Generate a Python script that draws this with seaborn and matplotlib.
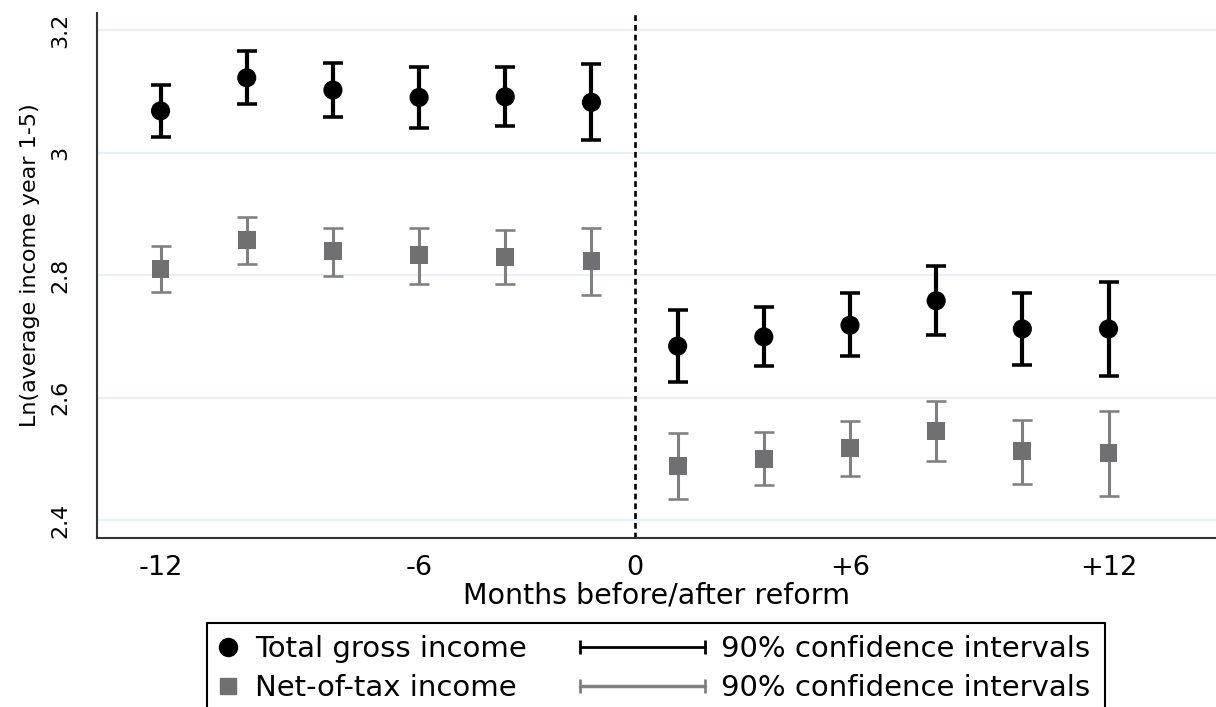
import numpy as np
import pandas as pd
import matplotlib
matplotlib.use("Agg")
import matplotlib.pyplot as plt
import seaborn as sns
from matplotlib.lines import Line2D
from matplotlib.patches import Rectangle
from matplotlib.legend_handler import HandlerLine2D

# event-time slots: 6 bins before, 6 bins after the reform
slots = [1, 2, 3, 4, 5, 6, 7, 8, 9, 10, 11, 12]
tick_pos = [1, 4, 6.5, 9, 12]
tick_labels = ["-12", "-6", "0", "+6", "+12"]

gross = [3.068, 3.122, 3.102, 3.090, 3.091, 3.082,
         2.684, 2.699, 2.718, 2.758, 2.712, 2.712]
gross_lo = [3.026, 3.080, 3.058, 3.040, 3.043, 3.020,
            2.625, 2.651, 2.668, 2.702, 2.653, 2.635]
gross_hi = [3.110, 3.165, 3.146, 3.140, 3.140, 3.145,
            2.743, 2.748, 2.770, 2.815, 2.771, 2.789]

net = [2.810, 2.857, 2.839, 2.833, 2.829, 2.823,
       2.488, 2.500, 2.517, 2.545, 2.513, 2.510]
net_lo = [2.772, 2.818, 2.799, 2.786, 2.786, 2.768,
          2.435, 2.457, 2.472, 2.496, 2.459, 2.440]
net_hi = [2.848, 2.895, 2.877, 2.877, 2.873, 2.877,
          2.542, 2.544, 2.562, 2.594, 2.564, 2.578]

df = pd.concat([
    pd.DataFrame({"slot": slots, "y": gross, "lo": gross_lo, "hi": gross_hi,
                  "series": "Total gross income"}),
    pd.DataFrame({"slot": slots, "y": net, "lo": net_lo, "hi": net_hi,
                  "series": "Net-of-tax income"}),
])

sns.set_style("white")
plt.rcParams["font.family"] = ["DejaVu Sans"]
plt.rcParams["text.color"] = "black"
plt.rcParams["axes.labelcolor"] = "black"
plt.rcParams["xtick.color"] = "black"
plt.rcParams["ytick.color"] = "black"

mark_col = {"Total gross income": "black", "Net-of-tax income": "#706f72"}
ci_col = {"Total gross income": "black", "Net-of-tax income": "#808080"}
ci_lw = {"Total gross income": 3.0, "Net-of-tax income": 2.2}

fig = plt.figure(figsize=(12.16, 7.07), dpi=100)
ax = fig.add_axes([0.0798, 0.2390, 0.9202, 0.7426])

# confidence intervals
for name, d in df.groupby("series", sort=False):
    ax.errorbar(d["slot"], d["y"], yerr=[d["y"] - d["lo"], d["hi"] - d["y"]],
                fmt="none", ecolor=ci_col[name], elinewidth=ci_lw[name],
                capsize=7.2, capthick=ci_lw[name] * 0.85, zorder=2)

# point estimates
sns.scatterplot(data=df, x="slot", y="y", hue="series", style="series",
                palette=mark_col, markers={"Total gross income": "o", "Net-of-tax income": "s"},
                size="series", sizes={"Total gross income": 190, "Net-of-tax income": 165},
                linewidth=0, legend=False, ax=ax, zorder=3)

ax.axvline(6.5, color="black", ls=(0, (2.2, 1.5)), lw=1.9, zorder=1)

ax.set_xlim(0.263, 13.247)
ax.set_ylim(2.3706, 3.2278)
ax.set_xticks(tick_pos)
ax.set_xticklabels(tick_labels)
ax.set_yticks(np.arange(2.4, 3.21, 0.1))
ax.set_yticklabels(["2.4", "", "2.6", "", "2.8", "", "3", "", "3.2"])
ax.grid(False)
for v in [2.4, 2.6, 2.8, 3.0, 3.2]:
    ax.axhline(v, color="#e8eff5", lw=1.6, zorder=0)

for s in ["top", "right"]:
    ax.spines[s].set_visible(False)
for s in ["left", "bottom"]:
    ax.spines[s].set_color("#333333")
    ax.spines[s].set_linewidth(1.5)

ax.tick_params(axis="x", length=7, width=1.5, color="#333333", pad=5.5, labelsize=19.5)
ax.tick_params(axis="y", length=8.5, width=1.5, color="#333333", pad=11,
               labelsize=16, labelrotation=90)
for t in ax.get_yticklabels():
    t.set_va("center")

ax.set_xlabel("Months before/after reform", fontsize=20.5, labelpad=0)
ax.set_ylabel("Ln(average income year 1-5)", fontsize=16)
ax.yaxis.set_label_coords(-0.051, 0.52)

# legend: frame plus two frameless columns
fig.add_artist(Rectangle((207 / 1216, -0.05), (1105 - 207) / 1216, 1 - 623 / 707 + 0.05,
                         transform=fig.transFigure, fill=False, ec="black", lw=1.5))

mk_handles = [Line2D([], [], marker="o", color="black", ls="", ms=13),
              Line2D([], [], marker="s", color="#706f72", ls="", ms=12)]
fig.legend(mk_handles, ["Total gross income", "Net-of-tax income"],
           loc="upper left", bbox_to_anchor=(214 / 1216, 1 - 635 / 707),
           frameon=False, fontsize=21, handlelength=0.95, handletextpad=0.45,
           borderpad=0, borderaxespad=0, labelspacing=0.38)

ci_handles = [Line2D([], [], color="black", lw=2, marker="|", ms=10, mew=2),
              Line2D([], [], color="#808080", lw=2.5, marker="|", ms=10, mew=2)]
fig.legend(ci_handles, ["90% confidence intervals", "90% confidence intervals"],
           loc="upper left", bbox_to_anchor=(580 / 1216, 1 - 635 / 707),
           frameon=False, fontsize=21, handlelength=4.3, handletextpad=0.55,
           borderpad=0, borderaxespad=0, labelspacing=0.38,
           handler_map={h: HandlerLine2D(numpoints=2, marker_pad=0) for h in ci_handles})

fig.savefig("out.png", dpi=100)
